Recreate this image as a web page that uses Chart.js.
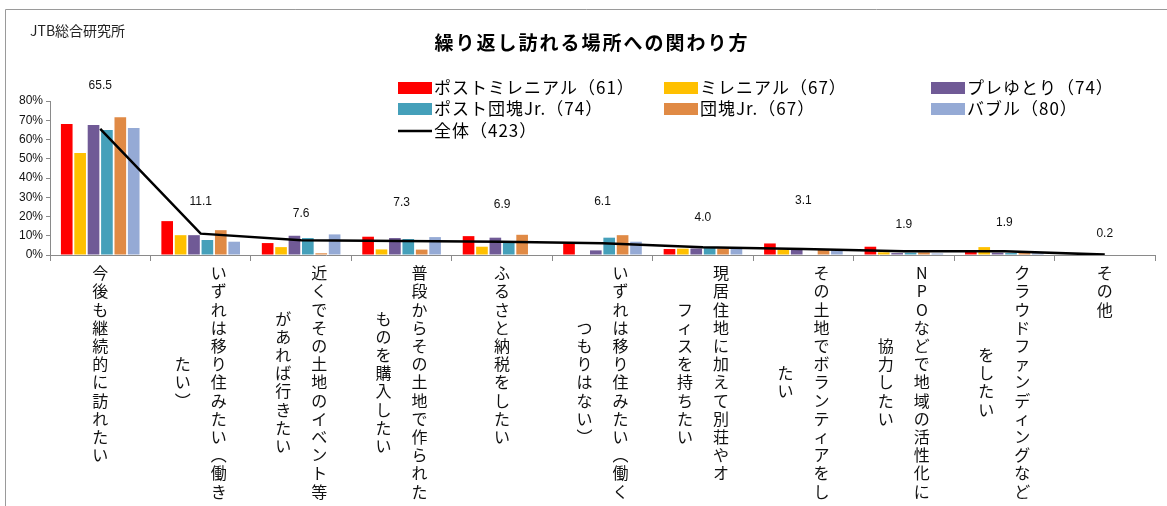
<!DOCTYPE html>
<html>
<head>
<meta charset="utf-8">
<script src="https://cdn.jsdelivr.net/npm/chart.js@4"></script>
<style>
  html, body { margin: 0; padding: 0; background: #fff; }
  #wrap { width: 1167px; height: 506px; position: relative; }
</style>
</head>
<body>
<div id="wrap"><canvas id="chart" width="1167" height="506"></canvas></div>
<script>
// category names, already split into the columns of the vertical labels
const categories = [
    ['今後も継続的に訪れたい'],
    ['いずれは移り住みたい（働き', 'たい）'],
    ['近くでその土地のイベント等', 'があれば行きたい'],
    ['普段からその土地で作られた', 'ものを購入したい'],
    ['ふるさと納税をしたい'],
    ['いずれは移り住みたい（働く', 'つもりはない）'],
    ['現居住地に加えて別荘やオ', 'フィスを持ちたい'],
    ['その土地でボランティアをし', 'たい'],
    ['NPOなどで地域の活性化に', '協力したい'],
    ['クラウドファンディングなど', 'をしたい'],
    ['その他'],
];

const seriesNames = ['ポストミレニアル（61）', 'ミレニアル（67）', 'プレゆとり（74）',
    'ポスト団塊Jr.（74）', '団塊Jr.（67）', 'バブル（80）'];
const totalName = '全体（423）';

// values in %
const postMillennial = [68.0, 17.6, 6.2, 9.5, 9.8, 5.9, 3.1, 6.0, 4.3, 1.6, 0];
const millennial     = [53.0, 10.3, 4.1, 2.9, 4.3, 0,   3.3, 2.9, 1.4, 4.1, 0];
const preYutori      = [67.5, 10.3, 10.0, 8.8, 9.0, 2.4, 3.4, 2.9, 1.0, 1.2, 0];
const postDankaiJr   = [65.0, 7.8,  8.8, 8.3, 6.8, 9.0, 3.8, 0,   1.2, 1.0, 0];
const dankaiJr       = [71.5, 12.9, 0.9, 2.8, 10.5, 10.3, 3.4, 2.8, 1.4, 1.0, 0];
const bubble         = [66.0, 6.9, 10.7, 9.3, 0,   6.9, 4.0, 2.8, 0.8, 0.9, 0];
const total          = [65.5, 11.1, 7.6, 7.3, 6.9, 6.1, 4.0, 3.1, 1.9, 1.9, 0.2];

const yTicks = [0, 10, 20, 30, 40, 50, 60, 70, 80];

// styling kept apart from the data
const barColors = ['#FF0000', '#FFC000', '#705A96', '#45A0BA', '#E08A45', '#95AAD5'];
const labelLift = [43, 32, 27, 38, 37, 42, 30, 48, 27, 29, 21];
const jpFont = '"Noto Sans CJK JP", "Noto Sans", sans-serif';
const verticalForms = { '（': '︵', '）': '︶' };

const decorations = {
    id: 'decorations',
    afterDraw(chart) {
        const ctx = chart.ctx;
        const xs = chart.scales.x;
        const ys = chart.scales.y;
        ctx.save();

        // frame
        ctx.strokeStyle = '#9a9a9a';
        ctx.lineWidth = 1;
        ctx.beginPath();
        ctx.moveTo(5.5, 506);
        ctx.lineTo(5.5, 9.5);
        ctx.lineTo(1167, 9.5);
        ctx.stroke();

        // source and title
        ctx.fillStyle = '#222';
        ctx.textBaseline = 'middle';
        ctx.textAlign = 'left';
        ctx.font = '14px ' + jpFont;
        ctx.fillText('JTB総合研究所', 30, 31);
        ctx.fillStyle = '#000';
        ctx.textAlign = 'center';
        ctx.font = 'bold 19px ' + jpFont;
        ctx.letterSpacing = '2px';
        ctx.fillText('繰り返し訪れる場所への関わり方', 592, 43);

        // legend
        ctx.font = '17px ' + jpFont;
        ctx.letterSpacing = '1px';
        ctx.textAlign = 'left';
        const colX = [398, 664, 931];
        const rowY = [88, 109, 131];
        seriesNames.forEach((name, i) => {
            const cx = colX[i % 3];
            const cy = rowY[Math.floor(i / 3)];
            ctx.fillStyle = barColors[i];
            ctx.fillRect(cx, cy - 6, 34, 12);
            ctx.fillStyle = '#000';
            ctx.fillText(name, cx + 36, cy);
        });
        ctx.strokeStyle = '#000';
        ctx.lineWidth = 2.5;
        ctx.beginPath();
        ctx.moveTo(colX[0], rowY[2]);
        ctx.lineTo(colX[0] + 34, rowY[2]);
        ctx.stroke();
        ctx.fillText(totalName, colX[0] + 36, rowY[2]);
        ctx.letterSpacing = '0px';

        // values of the total line
        ctx.font = '12px "Liberation Sans", sans-serif';
        ctx.textAlign = 'center';
        ctx.fillStyle = '#111';
        total.forEach((v, i) => {
            ctx.fillText(v.toFixed(1), xs.getPixelForValue(i), ys.getPixelForValue(v) - labelLift[i]);
        });

        // vertical category labels
        ctx.font = '16px ' + jpFont;
        const pitch = 18.2;
        const top = 264;
        categories.forEach((cols, i) => {
            const cx = xs.getPixelForValue(i);
            const longest = Math.max(...cols.map(c => [...c].length));
            cols.forEach((col, j) => {
                const chars = [...col];
                const x = cols.length === 1 ? cx : cx + 18 - j * 36;
                const y0 = top + (longest - chars.length) * pitch / 2;
                chars.forEach((ch, k) => {
                    ctx.fillText(verticalForms[ch] || ch, x, y0 + k * pitch + pitch / 2);
                });
            });
        });
        ctx.restore();
    }
};

const barSeries = [postMillennial, millennial, preYutori, postDankaiJr, dankaiJr, bubble];

new Chart(document.getElementById('chart'), {
    type: 'bar',
    data: {
        labels: categories.map(c => c.join('')),
        datasets: [
            {
                type: 'line',
                label: totalName,
                data: total,
                borderColor: '#000',
                borderWidth: 2.5,
                pointRadius: 0,
                tension: 0,
                order: 0,
            },
            ...barSeries.map((values, i) => ({
                label: seriesNames[i],
                data: values,
                backgroundColor: barColors[i],
                categoryPercentage: 0.8,
                barPercentage: 0.87,
                order: 1,
            })),
        ],
    },
    options: {
        responsive: false,
        animation: false,
        layout: { padding: { top: 101, bottom: 251, left: 5, right: 12 } },
        plugins: {
            legend: { display: false },
            title: { display: false },
            tooltip: { enabled: false },
        },
        scales: {
            x: {
                ticks: { display: false },
                grid: { drawOnChartArea: false, tickLength: 6, color: '#8a8a8a', offset: true },
                border: { color: '#8a8a8a' },
                afterFit: s => { s.height = 0; },
            },
            y: {
                min: yTicks[0],
                max: yTicks[yTicks.length - 1],
                afterBuildTicks: s => { s.ticks = yTicks.map(v => ({ value: v })); },
                ticks: {
                    callback: v => v + '%',
                    color: '#111',
                    font: { size: 12, family: '"Liberation Sans", sans-serif' },
                    padding: 3,
                },
                grid: { drawOnChartArea: false, tickLength: 4, color: '#8a8a8a' },
                border: { color: '#8a8a8a' },
                afterFit: s => { s.width = 45; },
            },
        },
    },
    plugins: [decorations],
});
</script>
</body>
</html>
